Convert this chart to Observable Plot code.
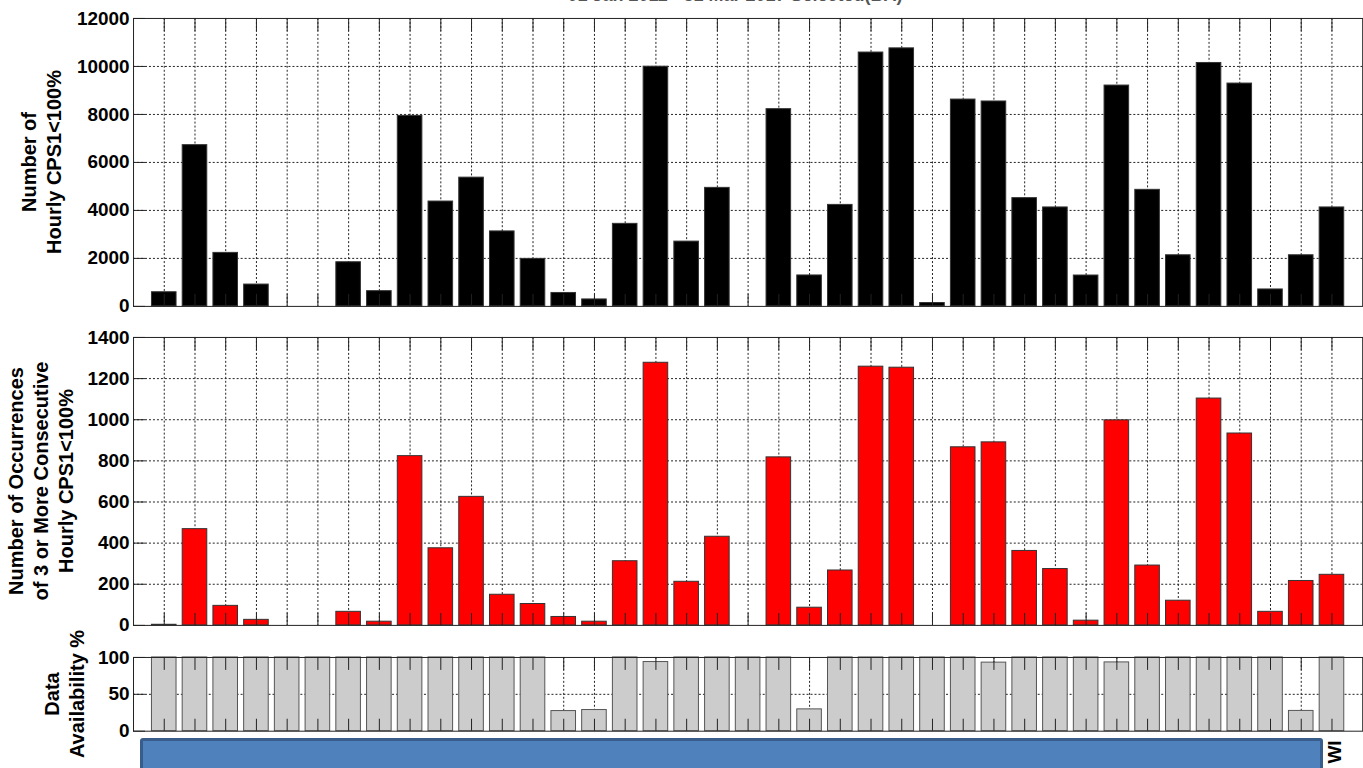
<!DOCTYPE html>
<html><head><meta charset="utf-8">
<script src="https://cdn.jsdelivr.net/npm/d3@7"></script>
<script src="https://cdn.jsdelivr.net/npm/@observablehq/plot@0.6"></script>
<style>
html,body{margin:0;padding:0;background:#fff;overflow:hidden}
#wrap{position:relative;width:1363px;height:768px;overflow:hidden;font-family:"Liberation Sans",Arial,sans-serif;color:#000}
.panel{position:absolute;left:0}
.ylab{position:absolute;white-space:nowrap;text-align:center;font-weight:bold;font-size:20px;line-height:25px;transform:translate(-50%,-50%) rotate(-90deg)}
#title{position:absolute;left:735px;top:-13.7px;transform:translateX(-50%);white-space:nowrap;font-weight:bold;font-size:18px;line-height:18px;color:#555}
#region{position:absolute;left:140px;top:737.5px;width:1183px;height:50px;box-sizing:border-box;background:#4F81BD;border:3px solid #385D8A;border-radius:3px}
#regionLabel{position:absolute;left:1335px;top:752px;transform:translate(-50%,-50%) rotate(-90deg);font-weight:bold;font-size:19px;white-space:nowrap}
</style></head><body>
<div id="wrap">
  <div id="title">01 Jan 2011 - 31 Mar 2017 Selected(BA)</div>
  <div id="p1" class="panel"></div>
  <div id="p2" class="panel"></div>
  <div id="p3" class="panel"></div>
  <div class="ylab" style="left:42px;top:162px">Number of<br>Hourly CPS1&lt;100%</div>
  <div class="ylab" style="left:41px;top:481px">Number of Occurrences<br>of 3 or More Consecutive<br>Hourly CPS1&lt;100%</div>
  <div class="ylab" style="left:65px;top:694px">Data<br>Availability %</div>
  <div id="region"></div>
  <div id="regionLabel">WI</div>
</div>
<script>
// ---- data ----
const categories = ["1","2","3","4","5","6","7","8","9","10","11","12","13","14","15","16","17","18","19","20",
  "21","22","23","24","25","26","27","28","29","30","31","32","33","34","35","36","37","38","39"];
const hourlyCounts = [590, 6720, 2230, 910, 0, 0, 1840, 635, 7940, 4370, 5366, 3125, 1980, 560, 290, 3440, 9990, 2700, 4940, 0,
  8220, 1290, 4230, 10580, 10754, 140, 8620, 8540, 4512, 4124, 1287, 9204, 4858, 2131, 10145, 9287, 706, 2131, 4124];
const occurrenceCounts = [3, 468, 95, 27, 0, 0, 66, 18, 823, 375, 625, 149, 104, 41, 18, 312, 1277, 212, 431, 0,
  817, 86, 267, 1258, 1253, 0, 866, 890, 362, 274, 23, 997, 291, 120, 1103, 933, 66, 216, 246];
const availabilityPct = [100, 100, 100, 100, 100, 100, 100, 100, 100, 100, 100, 100, 100, 27.3, 28.7, 100, 93.8, 100, 100, 100,
  100, 29.6, 100, 100, 100, 100, 100, 93, 100, 100, 100, 93.3, 100, 100, 100, 100, 100, 27.5, 100];
const hourlyTicks = [0, 2000, 4000, 6000, 8000, 10000, 12000];
const occurrenceTicks = [0, 200, 400, 600, 800, 1000, 1200, 1400];
const availabilityTicks = [0, 50, 100];

// ---- drawing ----
function panel(el, {values, ticks, fill, stroke, top, bottom}) {
  const mt = 10, mb = 10;
  const data = categories.map((c, i) => ({c, v: values[i]}));
  const dots = {stroke: "#222", strokeOpacity: 1, strokeWidth: 1, strokeDasharray: "2,2"};
  const chart = Plot.plot({
    width: 1368,
    height: bottom - top + mt + mb,
    marginLeft: 133.5, marginRight: 0.8, marginTop: mt, marginBottom: mb,
    x: {type: "band", domain: categories, paddingInner: 0.2, paddingOuter: 0.6, round: false, axis: null, label: null},
    y: {domain: [ticks[0], ticks[ticks.length - 1]], axis: null, label: null},
    style: {fontFamily: "'Liberation Sans', Arial, sans-serif", color: "#000", background: "transparent", overflow: "visible"},
    marks: [
      Plot.gridX(categories, dots),
      Plot.gridY(ticks.slice(1, -1), dots),
      Plot.barY(data, {x: "c", y: "v", fill, stroke, strokeWidth: 1}),
      Plot.axisX(categories, {anchor: "top", tickSize: -12, tickFormat: () => "", stroke: "#222", label: null}),
      Plot.axisX(categories, {anchor: "bottom", tickSize: -12, tickFormat: () => "", stroke: "#222", label: null}),
      Plot.axisY(ticks, {anchor: "left", tickSize: -12, tickFormat: () => "", stroke: "#222", label: null}),
      Plot.axisY(ticks, {anchor: "left", tickSize: 0, tickPadding: 4, tickFormat: d => String(d), fontSize: 19, fontWeight: "bold", fill: "#000", label: null}),
      Plot.frame({stroke: "#222", strokeWidth: 1})
    ]
  });
  const host = document.getElementById(el);
  host.style.top = (top - mt) + "px";
  host.appendChild(chart);
}

panel("p1", {values: hourlyCounts, ticks: hourlyTicks, fill: "#000", stroke: "#333", top: 17.7, bottom: 306.7});
panel("p2", {values: occurrenceCounts, ticks: occurrenceTicks, fill: "#FF0000", stroke: "#333", top: 336.7, bottom: 625.7});
panel("p3", {values: availabilityPct, ticks: availabilityTicks, fill: "#CCCCCC", stroke: "#555", top: 657, bottom: 731});
</script>
</body></html>
